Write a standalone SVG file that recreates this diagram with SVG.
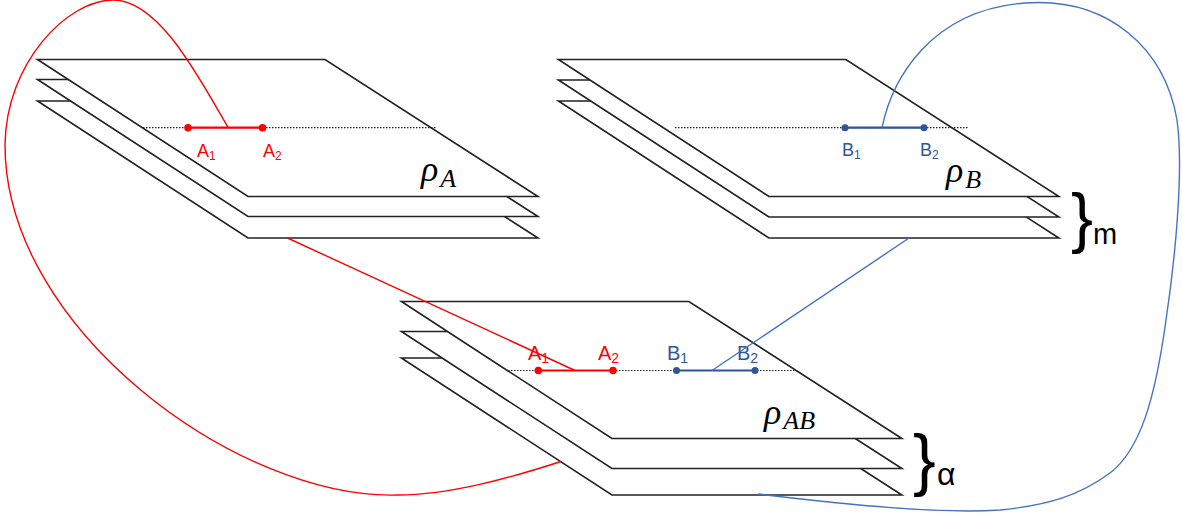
<svg xmlns="http://www.w3.org/2000/svg" width="1182" height="517" viewBox="0 0 1182 517">
<defs>
<style>
.plane{fill:#fff;stroke:#222;stroke-width:1.6}
.dotted{fill:none;stroke:#222;stroke-width:1.2;stroke-dasharray:1.5 1.5}
.red{stroke:#ff0000;fill:none;stroke-width:1.4}
.blue{stroke:#4472c4;fill:none;stroke-width:1.4}
.segr{stroke:#ff0000;stroke-width:2.2}
.segb{stroke:#2f5597;stroke-width:2.2}
.pr{fill:#ff0000}
.pb{fill:#2f5597}
.lbl{font-family:"Liberation Sans",Arial,sans-serif;font-size:18px}
.lbl2{font-family:"Liberation Sans",Arial,sans-serif;font-size:20px}
.lr{fill:#ff0000}
.lb{fill:#2f5597}
.rho{font-family:"Liberation Serif","DejaVu Serif",serif;font-style:italic;font-size:36px;fill:#000}
.sub{font-size:26px}
.brace{font-family:"Liberation Sans",Arial,sans-serif;fill:#000}
</style>
<polygon id="plane" class="plane" points="0,0 287.5,0 500.5,137 210.5,137"/>
</defs>
<rect width="1182" height="517" fill="#fff"/>

<g id="stack-A">
<use href="#plane" x="37.5" y="101"/>
<use href="#plane" x="37.5" y="79.5"/>
<use href="#plane" x="37.5" y="59.5"/>
<line class="dotted" x1="143" y1="127.7" x2="436" y2="127.7"/>
<line class="segr" x1="188" y1="127.7" x2="262.5" y2="127.7"/>
<circle class="pr" cx="188" cy="127.7" r="3.8"/>
<circle class="pr" cx="262.5" cy="127.7" r="3.8"/>
<text class="lbl lr" x="197" y="157">A<tspan font-size="12" dy="3">1</tspan></text>
<text class="lbl lr" x="263" y="157">A<tspan font-size="12" dy="3">2</tspan></text>
<text class="rho" x="421" y="181">ρ<tspan class="sub" dx="2" dy="6">A</tspan></text>
</g>

<g id="stack-B">
<use href="#plane" x="558.4" y="101"/>
<use href="#plane" x="558.4" y="80"/>
<use href="#plane" x="558.4" y="59.5"/>
<line class="dotted" x1="675" y1="127.7" x2="968" y2="127.7"/>
<line class="segb" x1="845" y1="127.7" x2="924" y2="127.7"/>
<circle class="pb" cx="845" cy="127.7" r="3.5"/>
<circle class="pb" cx="924" cy="127.7" r="3.5"/>
<text class="lbl lb" x="842" y="156">B<tspan font-size="12" dy="3">1</tspan></text>
<text class="lbl lb" x="920" y="156">B<tspan font-size="12" dy="3">2</tspan></text>
<text class="rho" x="946" y="182">ρ<tspan class="sub" dx="2" dy="6">B</tspan></text>
<text class="brace" x="1071" y="240" font-size="66">}</text>
<text class="brace" x="1093" y="244" font-size="29">m</text>
</g>

<g id="stack-AB">
<use href="#plane" x="401.4" y="358"/>
<use href="#plane" x="401.4" y="331.5"/>
<use href="#plane" x="401.4" y="301.5"/>
<line class="dotted" x1="508" y1="370.5" x2="796" y2="370.5"/>
<line class="segr" x1="538.3" y1="370.5" x2="613" y2="370.5"/>
<line class="segb" x1="676.5" y1="370.5" x2="755" y2="370.5"/>
<circle class="pr" cx="538.3" cy="370.5" r="3.8"/>
<circle class="pr" cx="613" cy="370.5" r="3.8"/>
<circle class="pb" cx="676.5" cy="370.5" r="3.5"/>
<circle class="pb" cx="755" cy="370.5" r="3.5"/>
<text class="lbl2 lr" x="528" y="360">A<tspan font-size="14" dy="3">1</tspan></text>
<text class="lbl2 lr" x="598" y="360">A<tspan font-size="14" dy="3">2</tspan></text>
<text class="lbl2 lb" x="667" y="360">B<tspan font-size="14" dy="3">1</tspan></text>
<text class="lbl2 lb" x="737" y="360">B<tspan font-size="14" dy="3">2</tspan></text>
<text class="rho" x="764" y="424">ρ<tspan class="sub" dx="2" dy="5">AB</tspan></text>
<text class="brace" x="913" y="483" font-size="68">}</text>
<text class="brace" x="937" y="485" font-size="32">α</text>
</g>

<g id="connectors">
<path class="red" d="M228.3,127.7 C200,80 160,0 113,0 C68,0 6,62 5,145 C5,330 240,500 398,495 C450,495 510,478 561,461.5"/>
<path class="red" d="M287.5,238 L575,370.5"/>
<path class="blue" d="M882,127.7 C892,80 930,10 1025,3 C1110,-3 1165,50 1177,120 C1184,170 1175,260 1166,320 C1155,400 1140,450 1110,473 C1080,495 1050,505 1000,510 C940,514 850,505 758,494"/>
<path class="blue" d="M909,238 L712,370.5"/>
</g>
</svg>
